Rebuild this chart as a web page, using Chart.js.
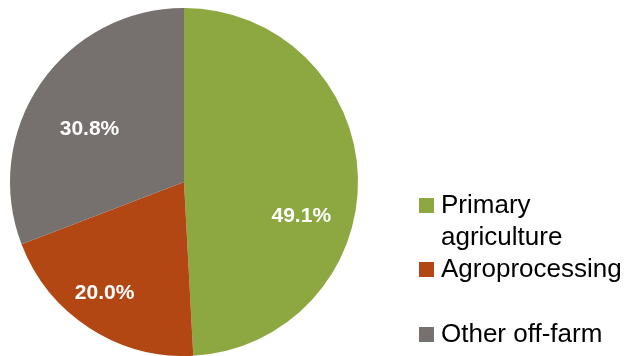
<!DOCTYPE html>
<html>
<head>
<meta charset="utf-8">
<script src="https://cdn.jsdelivr.net/npm/chart.js@4"></script>
<style>
  html, body { margin: 0; padding: 0; background: #fff; }
  #wrap { position: relative; width: 629px; height: 356px; overflow: hidden; }
  #wrap canvas { position: absolute; left: 0; top: 0; }
  #legend {
    position: absolute; left: 419px; top: 188px;
    font-family: "Liberation Sans", Arial, sans-serif; font-size: 26px;
    line-height: 32px; color: #000;
  }
  .lg-item { display: flex; align-items: flex-start; }
  .lg-box { width: 15px; height: 15px; margin-top: 10px; margin-right: 7px; flex: none; }
  .lg-text { width: 190px; }
</style>
</head>
<body>
<div id="wrap">
  <canvas id="pie" width="629" height="356"></canvas>
  <div id="legend"></div>
</div>
<script>
// slice data
const categories = ["Primary agriculture", "Agroprocessing", "Other off-farm"];
const shares = [49.1, 20.0, 30.8];
const sliceColors = ["#8DA741", "#B34714", "#76716F"];

// legend (html, matches the stacked layout on the right)
const legendGaps = [0, 0, 33];
document.getElementById("legend").innerHTML = categories
  .map(
    (c, i) =>
      `<div class="lg-item" style="margin-top:${legendGaps[i]}px"><span class="lg-box" style="background:${sliceColors[i]}"></span><span class="lg-text">${c}</span></div>`,
  )
  .join("");

// nudges for the % labels, relative to the slice mid point at 0.68 radius
const labelNudge = [[-1, 37], [-15, 12], [3, 14]];

const pctLabels = {
  id: "pctLabels",
  afterDatasetsDraw(chart) {
    const { ctx } = chart;
    const meta = chart.getDatasetMeta(0);
    ctx.save();
    ctx.font = "bold 21px 'Liberation Sans', Arial, sans-serif";
    ctx.fillStyle = "#fff";
    ctx.textAlign = "center";
    ctx.textBaseline = "middle";
    meta.data.forEach((arc, i) => {
      const mid = (arc.startAngle + arc.endAngle) / 2;
      const r = arc.outerRadius * 0.68;
      const x = arc.x + Math.cos(mid) * r + labelNudge[i][0];
      const y = arc.y + Math.sin(mid) * r + labelNudge[i][1];
      ctx.fillText(shares[i].toFixed(1) + "%", x, y);
    });
    ctx.restore();
  },
};

new Chart(document.getElementById("pie"), {
  type: "pie",
  data: {
    labels: categories,
    datasets: [
      {
        data: shares,
        backgroundColor: sliceColors,
        borderWidth: 0,
        hoverOffset: 0,
      },
    ],
  },
  options: {
    responsive: false,
    animation: false,
    radius: 174,
    layout: { padding: { left: 0, right: 261, top: 8, bottom: 0 } },
    plugins: {
      legend: { display: false },
      tooltip: { enabled: false },
    },
  },
  plugins: [pctLabels],
});
</script>
</body>
</html>
